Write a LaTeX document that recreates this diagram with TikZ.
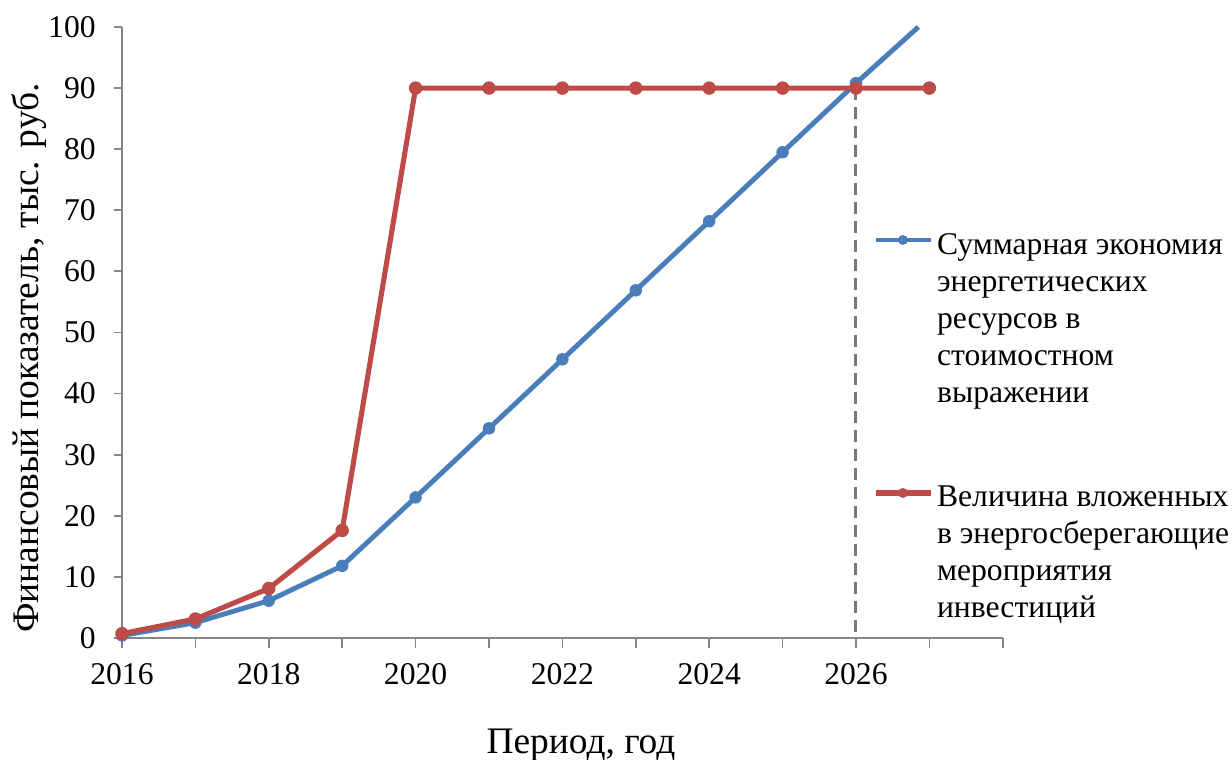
\documentclass[tikz,border=0pt]{standalone}
\usepackage{fontspec}
\setmainfont{Liberation Serif}
\usetikzlibrary{positioning}
\definecolor{seriesblue}{RGB}{74,126,187}
\definecolor{seriesred}{RGB}{190,75,72}
\definecolor{axisgray}{RGB}{134,134,134}

\begin{document}
\begin{tikzpicture}[x=1.468cm,y=0.1222cm,
    axisstyle/.style={draw=axisgray,line width=1pt},
    bluestyle/.style={draw=seriesblue,line width=2.8pt,line join=round},
    redstyle/.style={draw=seriesred,line width=2.9pt,line join=round},
    bluedot/.style={circle,fill=seriesblue,inner sep=0pt,minimum size=0.25cm},
    reddot/.style={circle,fill=seriesred,inner sep=0pt,minimum size=0.27cm},
    ticklabel/.style={font=\fontsize{18}{21}\selectfont,inner sep=0pt},
    titletext/.style={font=\fontsize{21.3}{25}\selectfont,inner sep=0pt,anchor=base},
    legendtext/.style={font=\fontsize{18}{21}\selectfont,align=left,anchor=north west,inner sep=0pt}]
    \useasboundingbox (-1.662,-19.97) rectangle (15.123,104.42);
    % axes and ticks
    \draw[axisstyle] (0,0) -- (12,0);
    \draw[axisstyle] (0,0) -- (0,100);
    \foreach \x in {0,...,12}
	\draw[axisstyle] (\x,0) -- (\x,-1.64);
    \foreach \y in {0,10,...,100}
	\draw[axisstyle] (0,\y) -- (-0.109,\y);
    \foreach \y in {0,10,...,100}
	\node [ticklabel,anchor=east] (ylab\y) at (-0.354,\y) {\y};
    \foreach \x [evaluate=\x as \yr using int(2016+\x)] in {0,2,...,10}
	\node [ticklabel] (xlab\x) at (\x,-5.9) {\yr};
    % axis titles
    \node [titletext] (xtitle) at (6.253,-18.99) {Период, год};
    \node [titletext,rotate=90] (ytitle) at (-1.144,45.8) {Финансовый показатель, тыс. руб.};
    % payback point
    \draw[axisgray!90!black,line width=1.7pt,dash pattern=on 0.24cm off 0.14cm] (10,90) -- (10,0);
    % saving
    \draw[bluestyle] plot coordinates {(0,0.4) (1,2.5) (2,6.1) (3,11.8) (4,23.0) (5,34.3) (6,45.6) (7,56.9) (8,68.2) (9,79.5) (10,90.8) (10.85,100)};
    \foreach \x/\v in {0/0.4,1/2.5,2/6.1,3/11.8,4/23.0,5/34.3,6/45.6,7/56.9,8/68.2,9/79.5,10/90.8}
	\node [bluedot] (b\x) at (\x,\v) {};
    % investment
    \draw[redstyle] plot coordinates {(0,0.7) (1,3.1) (2,8.1) (3,17.6) (4,90) (5,90) (6,90) (7,90) (8,90) (9,90) (10,90) (11,90)};
    \foreach \x/\v in {0/0.7,1/3.1,2/8.1,3/17.6,4/90,5/90,6/90,7/90,8/90,9/90,10/90,11/90}
	\node [reddot] (r\x) at (\x,\v) {};
    % legend
    \draw[bluestyle] (10.27,65.14) -- (11.02,65.14);
    \node [bluedot,minimum size=0.2cm] (bluekey) at (10.64,65.14) {};
    \node [legendtext] (bluetext) at (11.10,66.2) {Суммарная экономия\\энергетических\\ресурсов в\\стоимостном\\выражении};
    \draw[redstyle] (10.27,23.73) -- (11.02,23.73);
    \node [reddot,minimum size=0.2cm] (redkey) at (10.64,23.73) {};
    \node [legendtext] (redtext) at (11.10,24.9) {Величина вложенных\\в энергосберегающие\\мероприятия\\инвестиций};
\end{tikzpicture}
\end{document}
